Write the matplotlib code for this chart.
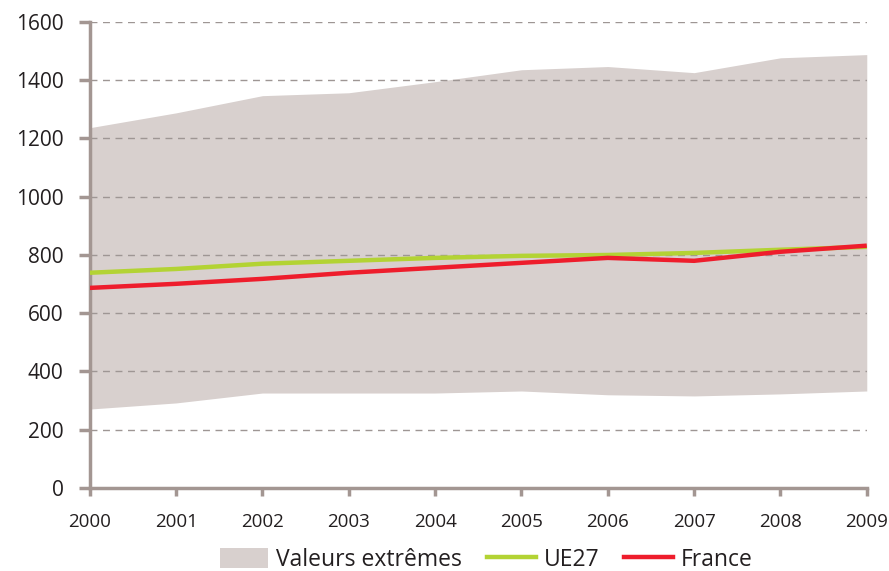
import matplotlib

matplotlib.use("Agg")
import matplotlib.pyplot as plt
from matplotlib.patches import Patch
from matplotlib.lines import Line2D

years = [2000, 2001, 2002, 2003, 2004, 2005, 2006, 2007, 2008, 2009]
extreme_high = [1237, 1288, 1347, 1357, 1395, 1436, 1447, 1426, 1477, 1488]
extreme_low = [271, 292, 326, 326, 326, 333, 320, 316, 323, 333]
ue27 = [739, 752, 770, 780, 790, 797, 800, 807, 818, 828]
france = [687, 701, 718, 739, 756, 773, 790, 780, 811, 832]

AXIS_COLOR = "#a39692"
FILL_COLOR = "#d8d0ce"
GREEN = "#b3d334"
RED = "#ee1d2c"
TEXT_COLOR = "#231f20"

plt.rcParams["font.family"] = ["Open Sans", "DejaVu Sans"]

fig = plt.figure(figsize=(8.89, 5.71), dpi=100)
ax = fig.add_axes([0.101, 0.1454, 0.874, 0.8161])

ax.fill_between(years, extreme_low, extreme_high, color=FILL_COLOR, linewidth=0, zorder=1)
for y in range(200, 1601, 200):
    ax.axhline(y, color="#9e9694", linestyle=(0, (5, 4)), linewidth=1.0, zorder=2)
ax.plot(years, ue27, color=GREEN, linewidth=3.2, zorder=3, solid_capstyle="butt")
ax.plot(years, france, color=RED, linewidth=3.2, zorder=4, solid_capstyle="butt")

ax.set_xlim(2000, 2009)
ax.set_ylim(0, 1600)
ax.set_xticks(years)
ax.set_yticks(range(0, 1601, 200))
ax.set_yticklabels([str(v) for v in range(0, 1601, 200)], fontsize=15, color=TEXT_COLOR)
ax.set_xticklabels([str(y) for y in years], fontsize=13.5, color=TEXT_COLOR)

for side in ("top", "right"):
    ax.spines[side].set_visible(False)
for side in ("left", "bottom"):
    ax.spines[side].set_color(AXIS_COLOR)
    ax.spines[side].set_linewidth(2.5)
ax.tick_params(axis="y", direction="out", length=8, width=2.5, color=AXIS_COLOR, pad=11)
ax.tick_params(axis="x", direction="out", length=6, width=2.5, color=AXIS_COLOR, pad=12)

handles = [
    Patch(facecolor=FILL_COLOR, edgecolor="none", label="Valeurs extrêmes"),
    Line2D([], [], color=GREEN, linewidth=3.2, label="UE27"),
    Line2D([], [], color=RED, linewidth=3.2, label="France"),
]
fig.legend(
    handles=handles,
    loc="lower center",
    bbox_to_anchor=(0.547, -0.038),
    ncol=3,
    frameon=False,
    fontsize=16.5,
    handlelength=2.1,
    handleheight=1.0,
    columnspacing=1.1,
    handletextpad=0.35,
    labelcolor=TEXT_COLOR,
)

fig.savefig("out.png", dpi=100)
